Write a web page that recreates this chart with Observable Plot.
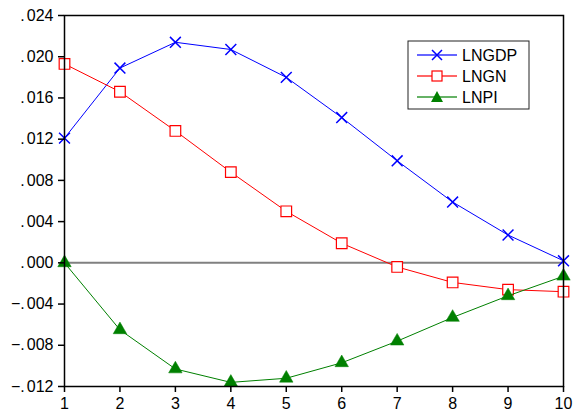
<!DOCTYPE html>
<html>
<head>
<meta charset="utf-8">
<script src="https://cdn.jsdelivr.net/npm/d3@7"></script>
<script src="https://cdn.jsdelivr.net/npm/@observablehq/plot@0.6"></script>
<style>
  html, body { margin: 0; padding: 0; background: #fff; }
  #chart { position: relative; width: 579px; height: 416px; }
</style>
</head>
<body>
<div id="chart"></div>
<script>
const periods = [1, 2, 3, 4, 5, 6, 7, 8, 9, 10];
const lngdp = [0.0121, 0.0189, 0.0214, 0.0207, 0.0180, 0.0141, 0.0099, 0.0059, 0.0027, 0.0002];
const lngn  = [0.0193, 0.0166, 0.0128, 0.0088, 0.0050, 0.0019, -0.0004, -0.0019, -0.0026, -0.0028];
const lnpi  = [0.0000, -0.0065, -0.0103, -0.0116, -0.0112, -0.0097, -0.0076, -0.0053, -0.0032, -0.0013];
const seriesNames = ["LNGDP", "LNGN", "LNPI"];
const yTicks = [-0.012, -0.008, -0.004, 0, 0.004, 0.008, 0.012, 0.016, 0.020, 0.024];

const toRows = (vals) => periods.map((p, i) => ({ x: p, y: vals[i] }));
const gdp = toRows(lngdp), gn = toRows(lngn), pi = toRows(lnpi);
const fmt = d => d3.format(".3f")(d).replace("0.", ".");
const font = "Liberation Sans, Arial, sans-serif";

const plot = Plot.plot({
  width: 579,
  height: 416,
  marginLeft: 64,
  marginRight: 16,
  marginTop: 15,
  marginBottom: 30,
  style: { fontFamily: font, fontSize: "16px", color: "#000", background: "#fff" },
  x: { domain: [1, 10] },
  y: { domain: [-0.012, 0.024] },
  marks: [
    Plot.ruleY([0], { stroke: "#808080", strokeWidth: 2 }),
    Plot.line(gdp, { x: "x", y: "y", stroke: "#0000ff", strokeWidth: 1 }),
    Plot.dot(gdp, { x: "x", y: "y", symbol: "times", stroke: "#0000ff", strokeWidth: 1.5, r: 5 }),
    Plot.line(gn, { x: "x", y: "y", stroke: "#ff0000", strokeWidth: 1 }),
    Plot.dot(gn, { x: "x", y: "y", symbol: "square", stroke: "#ff0000", fill: "#fff", strokeWidth: 1.2, r: 6 }),
    Plot.line(pi, { x: "x", y: "y", stroke: "#008000", strokeWidth: 1 }),
    Plot.dot(pi, { x: "x", y: "y", symbol: "triangle", fill: "#008000", stroke: "#008000", strokeWidth: 0.5, r: 5 }),
    Plot.frame({ stroke: "#000", strokeWidth: 1.5 }),
    Plot.axisX({ ticks: periods, tickFormat: d => String(d), tickSize: 6, tickPadding: 5, label: null, strokeWidth: 1.5 }),
    Plot.axisY({ ticks: yTicks, tickFormat: fmt, tickSize: 6, tickPadding: 5, label: null, strokeWidth: 1.5 })
  ]
});
document.getElementById("chart").appendChild(plot);

const svg = d3.select(plot);
svg.selectAll("text").style("font-size", "16px").style("font-family", font).style("fill", "#000");

// slightly widen the gap after the decimal point, as in the reference's tick labels
svg.selectAll('g[aria-label="y-axis tick label"] text').each(function () {
  const t = d3.select(this);
  const s = this.textContent;
  const k = s.indexOf(".");
  if (k < 0) return;
  t.text(null);
  t.append("tspan").text(s.slice(0, k + 1));
  t.append("tspan").attr("dx", 2).text(s.slice(k + 1));
});

// Legend box
const lg = svg.append("g").attr("transform", "translate(408,41)");
lg.append("rect").attr("width", 121).attr("height", 68).attr("fill", "#fff").attr("stroke", "#222").attr("stroke-width", 1);
const colors = ["#0000ff", "#ff0000", "#008000"];
seriesNames.forEach((name, i) => {
  const y = 14 + i * 21;
  lg.append("line").attr("x1", 9).attr("x2", 49).attr("y1", y).attr("y2", y).attr("stroke", colors[i]).attr("stroke-width", 1.5).attr("stroke-opacity", 0.8);
  const cx = 29;
  if (i === 0) {
    lg.append("path").attr("d", `M${cx-5},${y-5}L${cx+5},${y+5}M${cx-5},${y+5}L${cx+5},${y-5}`).attr("stroke", colors[i]).attr("stroke-width", 1.5).attr("fill", "none");
  } else if (i === 1) {
    lg.append("rect").attr("x", cx - 5).attr("y", y - 5).attr("width", 10).attr("height", 10).attr("fill", "#fff").attr("stroke", colors[i]).attr("stroke-width", 1.2);
  } else {
    lg.append("path").attr("d", `M${cx},${y-6}L${cx+6},${y+5}L${cx-6},${y+5}Z`).attr("fill", colors[i]);
  }
  lg.append("text").attr("x", 54).attr("y", y).attr("dy", "0.36em").attr("text-anchor", "start")
    .style("font-size", "16px").style("font-family", font).attr("fill", "#000").text(name);
});
</script>
</body>
</html>
